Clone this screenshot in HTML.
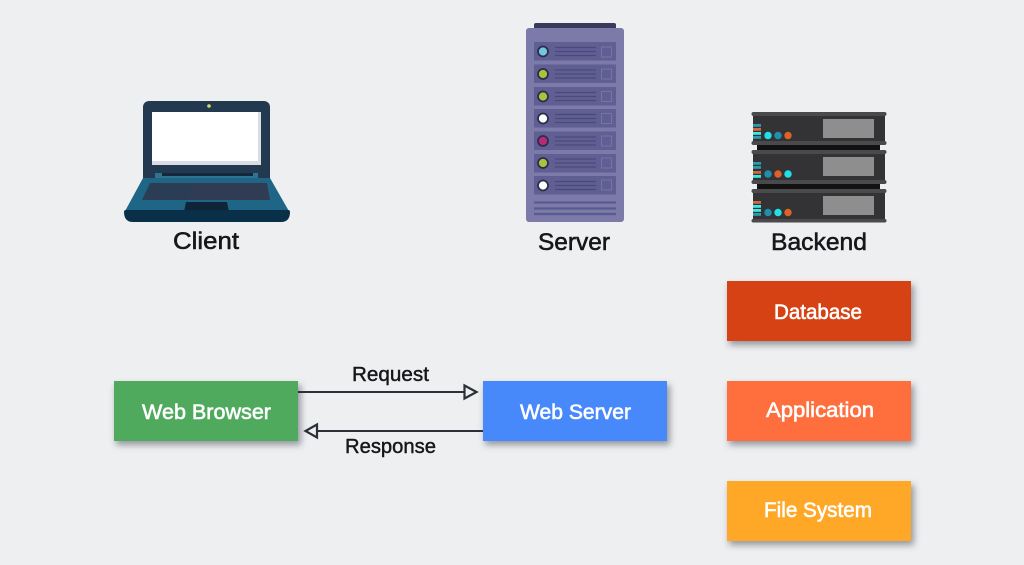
<!DOCTYPE html>
<html><head><meta charset="utf-8"><style>
html,body{margin:0;padding:0;background:#eeeff1;width:1024px;height:565px;overflow:hidden}
svg{display:block}
text{font-family:"Liberation Sans",sans-serif}
.k{fill:#15171a;stroke:#15171a;stroke-width:.55;font-size:24px}
.m{fill:#15171a;stroke:#15171a;stroke-width:.45;font-size:20.500px}
.w{fill:#fff;stroke:#fff;stroke-width:.6;font-size:21.500px}
</style></head><body>
<svg width="1024" height="565" viewBox="0 0 1024 565" xmlns="http://www.w3.org/2000/svg">
<defs>
<filter id="s" x="-15%" y="-25%" width="130%" height="160%"><feGaussianBlur stdDeviation="3.500"/></filter>
</defs>
<rect width="1024" height="565" fill="#eeeff1"/>

<!-- Laptop -->
<path d="M149 101H264a6 6 0 0 1 6 6V178H143V107a6 6 0 0 1 6-6z" fill="#22394f"/>
<circle cx="209" cy="106" r="1.800" fill="#d8d860"/>
<rect x="152" y="112" width="109" height="53" fill="#d9dce2"/>
<rect x="152" y="112" width="106" height="49" fill="#fff"/>
<path d="M155 173H162V176H253V173H258V178H155Z" fill="#2f7390"/>
<rect x="162" y="173" width="91" height="3" fill="#14283c"/>
<path d="M143 178H270L290 213H124Z" fill="#1f6686"/>
<path d="M150 183H196L190 200H142Z" fill="#2a3d55"/>
<path d="M196 183H267L270 200H190Z" fill="#2f3c53"/>
<path d="M186 202H227L229 212H184Z" fill="#0f2438"/>
<path d="M124 212Q124 210 126 210L288 210Q290 210 290 212Q290 222 281 222H133Q124 222 124 212Z" fill="#0a2f49"/>
<text class="k" x="173" y="249" textLength="66" lengthAdjust="spacingAndGlyphs">Client</text>

<!-- Server -->
<rect x="534" y="23" width="82" height="8" rx="2" fill="#3a3a5c"/>
<rect x="526" y="28" width="98" height="194" rx="3" fill="#7b7aa8"/>
<g fill="#5f5f93">
<rect x="534" y="42" width="82" height="18.500"/><rect x="534" y="64.500" width="82" height="18.500"/><rect x="534" y="87" width="82" height="18.500"/><rect x="534" y="109" width="82" height="18.500"/><rect x="534" y="131.500" width="82" height="18.500"/><rect x="534" y="154" width="82" height="18.500"/><rect x="534" y="176" width="82" height="18.500"/>
</g>
<g stroke="#2d2d4d" stroke-width="1.800">
<circle cx="543" cy="51.500" r="5" fill="#72c7dc"/>
<circle cx="543" cy="74" r="5" fill="#a8c43c"/>
<circle cx="543" cy="96.500" r="5" fill="#a8c43c"/>
<circle cx="543" cy="118.500" r="5" fill="#fff"/>
<circle cx="543" cy="141" r="5" fill="#b82a78"/>
<circle cx="543" cy="163" r="5" fill="#a8c43c"/>
<circle cx="543" cy="185.500" r="5" fill="#fff"/>
</g>
<g stroke="#4a4a7a" stroke-width="1.300">
<path d="M555 47.500H596M555 51.500H596M555 55.500H596"/>
<path d="M555 70H596M555 74H596M555 78H596"/>
<path d="M555 92.500H596M555 96.500H596M555 100.500H596"/>
<path d="M555 114.500H596M555 118.500H596M555 122.500H596"/>
<path d="M555 137H596M555 141H596M555 145H596"/>
<path d="M555 159H596M555 163H596M555 167H596"/>
<path d="M555 181.500H596M555 185.500H596M555 189.500H596"/>
</g>
<g fill="none" stroke="#7676a4" stroke-width="1">
<rect x="601.500" y="47" width="10" height="10"/><rect x="601.500" y="69" width="10" height="10"/><rect x="601.500" y="91.500" width="10" height="10"/><rect x="601.500" y="113.500" width="10" height="10"/><rect x="601.500" y="136" width="10" height="10"/><rect x="601.500" y="158" width="10" height="10"/><rect x="601.500" y="180" width="10" height="10"/>
</g>
<path d="M534 202.500H616M534 208.500H616M534 214H616" stroke="#5a5a8e" stroke-width="2.200"/>
<text class="k" x="538" y="250" textLength="72" lengthAdjust="spacingAndGlyphs">Server</text>

<!-- Backend -->
<rect x="757" y="145" width="123" height="5" fill="#111"/>
<rect x="757" y="184" width="123" height="5" fill="#111"/>
<g fill="#333335">
<rect x="753" y="114" width="132" height="30"/><rect x="753" y="152" width="132" height="31"/><rect x="753" y="191" width="132" height="30"/>
</g>
<g fill="#4a4a4c">
<rect x="751.500" y="112" width="135" height="4" rx="2"/><rect x="751.500" y="141" width="135" height="4" rx="2"/>
<rect x="751.500" y="150" width="135" height="4" rx="2"/><rect x="751.500" y="180" width="135" height="4" rx="2"/>
<rect x="751.500" y="189" width="135" height="4" rx="2"/><rect x="751.500" y="219" width="135" height="3.500" rx="1.700"/>
</g>
<g fill="#8e8e8e">
<rect x="823" y="119" width="51" height="19"/><rect x="823" y="157" width="51" height="19"/><rect x="823" y="196" width="51" height="19"/>
</g>
<g>
<rect x="753" y="124" width="8" height="2.800" fill="#2a9bab"/><rect x="753" y="128" width="8" height="2.800" fill="#d2673a"/><rect x="753" y="132" width="8" height="2.800" fill="#3fe6e6"/><rect x="753" y="136" width="8" height="2.800" fill="#2a9bab"/>
<rect x="753" y="162" width="8" height="2.800" fill="#2a9bab"/><rect x="753" y="166" width="8" height="2.800" fill="#2a9bab"/><rect x="753" y="171" width="8" height="2.800" fill="#d2673a"/><rect x="753" y="175" width="8" height="2.800" fill="#3fe6e6"/>
<rect x="753" y="201" width="8" height="2.800" fill="#d2673a"/><rect x="753" y="205" width="8" height="2.800" fill="#3fe6e6"/><rect x="753" y="209" width="8" height="2.800" fill="#3fe6e6"/><rect x="753" y="213" width="8" height="2.800" fill="#2a9bab"/>
</g>
<circle cx="768" cy="135.500" r="3.700" fill="#1fe0e6"/><circle cx="778" cy="135.500" r="3.700" fill="#1f8fb0"/><circle cx="788" cy="135.500" r="3.700" fill="#de6128"/>
<circle cx="768" cy="174" r="3.700" fill="#1f8fb0"/><circle cx="778" cy="174" r="3.700" fill="#de6128"/><circle cx="788" cy="174" r="3.700" fill="#1fe0e6"/>
<circle cx="768" cy="212.500" r="3.700" fill="#1f8fb0"/><circle cx="778" cy="212.500" r="3.700" fill="#1fe0e6"/><circle cx="788" cy="212.500" r="3.700" fill="#de6128"/>
<text class="k" x="771" y="250" textLength="96" lengthAdjust="spacingAndGlyphs">Backend</text>

<!-- Box shadows -->
<g fill="#4a4f5a" opacity=".55" filter="url(#s)">
<rect x="116" y="385" width="185" height="60"/><rect x="485" y="385" width="185" height="60"/>
<rect x="729" y="285" width="185" height="60"/><rect x="729" y="385" width="185" height="60"/><rect x="729" y="485" width="185" height="60"/>
</g>

<!-- Boxes -->
<rect x="114" y="381" width="184" height="60" fill="#4faa5e"/>
<rect x="483" y="381" width="184" height="60" fill="#4788fb"/>
<rect x="727" y="281" width="184" height="60" fill="#d64213"/>
<rect x="727" y="381" width="184" height="60" fill="#ff6e3d"/>
<rect x="727" y="481" width="184" height="60" fill="#ffa726"/>
<text class="w" x="142" y="419" textLength="129" lengthAdjust="spacingAndGlyphs">Web Browser</text>
<text class="w" x="520" y="419" textLength="111" lengthAdjust="spacingAndGlyphs">Web Server</text>
<text class="w" x="774" y="319" textLength="88" lengthAdjust="spacingAndGlyphs">Database</text>
<text class="w" x="766" y="417" textLength="108" lengthAdjust="spacingAndGlyphs">Application</text>
<text class="w" x="764" y="517" textLength="108" lengthAdjust="spacingAndGlyphs">File System</text>

<!-- Arrows -->
<path d="M298 392H464" stroke="#2b3136" stroke-width="2" fill="none"/>
<path d="M464.500 385.500L476.500 392L464.500 398.500Z" fill="#eeeff1" stroke="#2b3136" stroke-width="2.200"/>
<path d="M483 431H317" stroke="#2b3136" stroke-width="2" fill="none"/>
<path d="M317 424.500L305.500 431L317 437.500Z" fill="#eeeff1" stroke="#2b3136" stroke-width="2.200"/>
<text class="m" x="352" y="381" textLength="77" lengthAdjust="spacingAndGlyphs">Request</text>
<text class="m" x="345" y="453" textLength="91" lengthAdjust="spacingAndGlyphs">Response</text>
</svg>
</body></html>
